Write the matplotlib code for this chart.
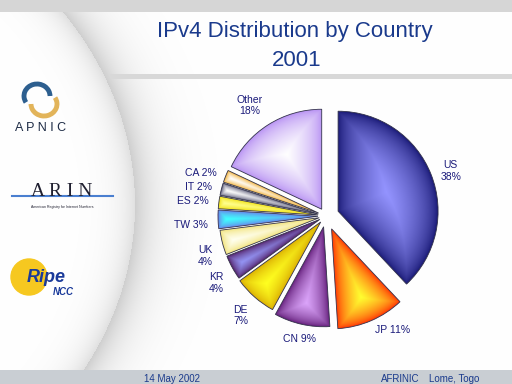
import numpy as np
import matplotlib.pyplot as plt
from matplotlib.patches import Circle, Arc
from matplotlib.colors import to_rgb

plt.rcParams['font.family'] = ['Liberation Sans', 'DejaVu Sans']

# data
countries = ['US', 'JP', 'CN', 'DE', 'KR', 'UK', 'TW', 'ES', 'IT', 'CA', 'Other']
shares = [38, 11, 9, 7, 4, 4, 3, 2, 2, 2, 18]
stacked = ['US', 'DE', 'KR', 'UK', 'Other']   # labels written on two lines

# styling
explode = [0.13, 0.14, 0.11, 0.08, 0.07, 0.07, 0.08, 0.08, 0.08, 0.08, 0.08]
inner = ['#9494ff', '#ffff30', '#dba4fa', '#ffff20', '#9494f4', '#fffff0',
         '#40ffff', '#ffff90', '#ffffff', '#ffffff', '#ffffff']
outer = ['#141470', '#ff2800', '#5c1672', '#d8a800', '#4c165a', '#f0e070',
         '#7070e6', '#eedc00', '#4a4a6a', '#f0a820', '#b48cf2']
navy = '#1a1a7a'
title_blue = '#1a3a8c'

labels = []
for c, s in zip(countries, shares):
    if c in stacked:
        labels.append(c + '\n' + str(s) + '%')
    else:
        labels.append(c + ' ' + str(s) + '%')

fig = plt.figure(figsize=(5.12, 3.84), dpi=100)

# ---- slide background ----
H, W = 384, 512
yy, xx = np.mgrid[0:H, 0:W] + 0.5
s = np.sqrt(((xx + 300) / 435) ** 2 + ((yy - 205) / 350) ** 2)
dist = (s - 1) * 435
bg = 1 - np.where(dist > 0, 0.19 * np.exp(-dist / 22), 0.12 * np.exp(dist / 16))
bg[(yy < 12)] = 0.84
band = (yy > 74) & (yy < 79) & (dist > 0)
bg[band] = np.minimum(bg[band], 0.85)
rgb = np.dstack([bg, bg, bg])
rgb[yy[:, 0] >= 370] = [0.79, 0.81, 0.83]

bgax = fig.add_axes([0, 0, 1, 1])
bgax.imshow(rgb, extent=(0, W, H, 0), zorder=0)
bgax.set_xlim(0, W)
bgax.set_ylim(H, 0)
bgax.axis('off')

# logos (rough)
bgax.add_patch(Arc((37, 96), 26, 24, theta1=150, theta2=360, lw=3.5, color='#2d5f8f'))
bgax.add_patch(Arc((44, 104), 26, 24, theta1=-30, theta2=180, lw=3.5, color='#e2b45a'))
bgax.text(41, 128, 'A P N I C', ha='center', va='center', fontsize=9, color='#1c2a44')
bgax.plot([12, 113], [196, 196], color='#4a7fd0', lw=1.5)
bgax.text(62, 192, 'A R I N', ha='center', va='center', fontsize=14,
          family='Liberation Serif', color='#202030')
bgax.text(62, 207, 'American Registry for Internet Numbers', ha='center', va='center',
          fontsize=2.5, color='#202030')
bgax.add_patch(Circle((29, 277), 18, color='#f6c820'))
bgax.text(46, 278, 'Ripe', ha='center', va='center', fontsize=13, style='italic',
          weight='bold', color='#1a3a9a')
bgax.text(63, 292, 'NCC', ha='center', va='center', fontsize=7, style='italic',
          weight='bold', color='#1a3a9a')

# title and footer
bgax.text(295, 32, 'IPv4 Distribution by Country', ha='center', va='center',
          fontsize=16, color=title_blue)
bgax.text(297, 60, '2001', ha='center', va='center', fontsize=16, color=title_blue)
bgax.text(172, 379, '14 May 2002', ha='center', va='center', fontsize=7, color=title_blue)
bgax.text(400, 379, 'AFRINIC', ha='center', va='center', fontsize=7, color=title_blue)
bgax.text(454, 379, 'Lome, Togo', ha='center', va='center', fontsize=7, color=title_blue)

# ---- pie ----
ax = fig.add_axes([(326 - 150) / W, (H - 216 - 150) / H, 300 / W, 300 / H])
wedges, texts = ax.pie(shares, labels=labels, explode=explode, startangle=90,
                       counterclock=False, labeldistance=1.1,
                       textprops=dict(fontsize=7.5, color=navy),
                       wedgeprops=dict(edgecolor='#34344c', linewidth=0.6))

gx = np.linspace(-1.5, 1.5, 600)
X, Y = np.meshgrid(gx, gx)
for w, ci, co in zip(wedges, inner, outer):
    cx, cy = w.center
    r = np.hypot(X - cx, Y - cy)
    ang = np.degrees(np.arctan2(Y - cy, X - cx))
    span = (w.theta2 - w.theta1) % 360
    rel = (ang - w.theta1) % 360
    inside = (rel <= span) & (r <= w.r)
    da = np.clip(np.minimum(rel, span - rel), 0, 90)
    d = np.minimum(w.r - r, r * np.sin(np.radians(da)))
    d = np.where(inside, d, 0)
    t = (d / d.max()) ** 0.6
    c_in = np.array(to_rgb(ci))
    c_out = np.array(to_rgb(co))
    img = c_out + (c_in - c_out) * t[..., None]
    im = ax.imshow(img, extent=(-1.5, 1.5, -1.5, 1.5), origin='lower', zorder=1)
    im.set_clip_path(w)
    w.set_facecolor('none')
    w.set_zorder(2)

for t in texts:
    x, y = t.get_position()
    t.set_multialignment('center')
    if abs(x) < 0.35:
        t.set_horizontalalignment('center')
    if y < 0 and x < 0.3:
        t.set_verticalalignment('top')
    elif y > 0.9:
        t.set_verticalalignment('bottom')

ax.set_xlim(-1.5, 1.5)
ax.set_ylim(-1.5, 1.5)
ax.set_aspect('equal')
ax.axis('off')

fig.savefig('out.png', dpi=100)
